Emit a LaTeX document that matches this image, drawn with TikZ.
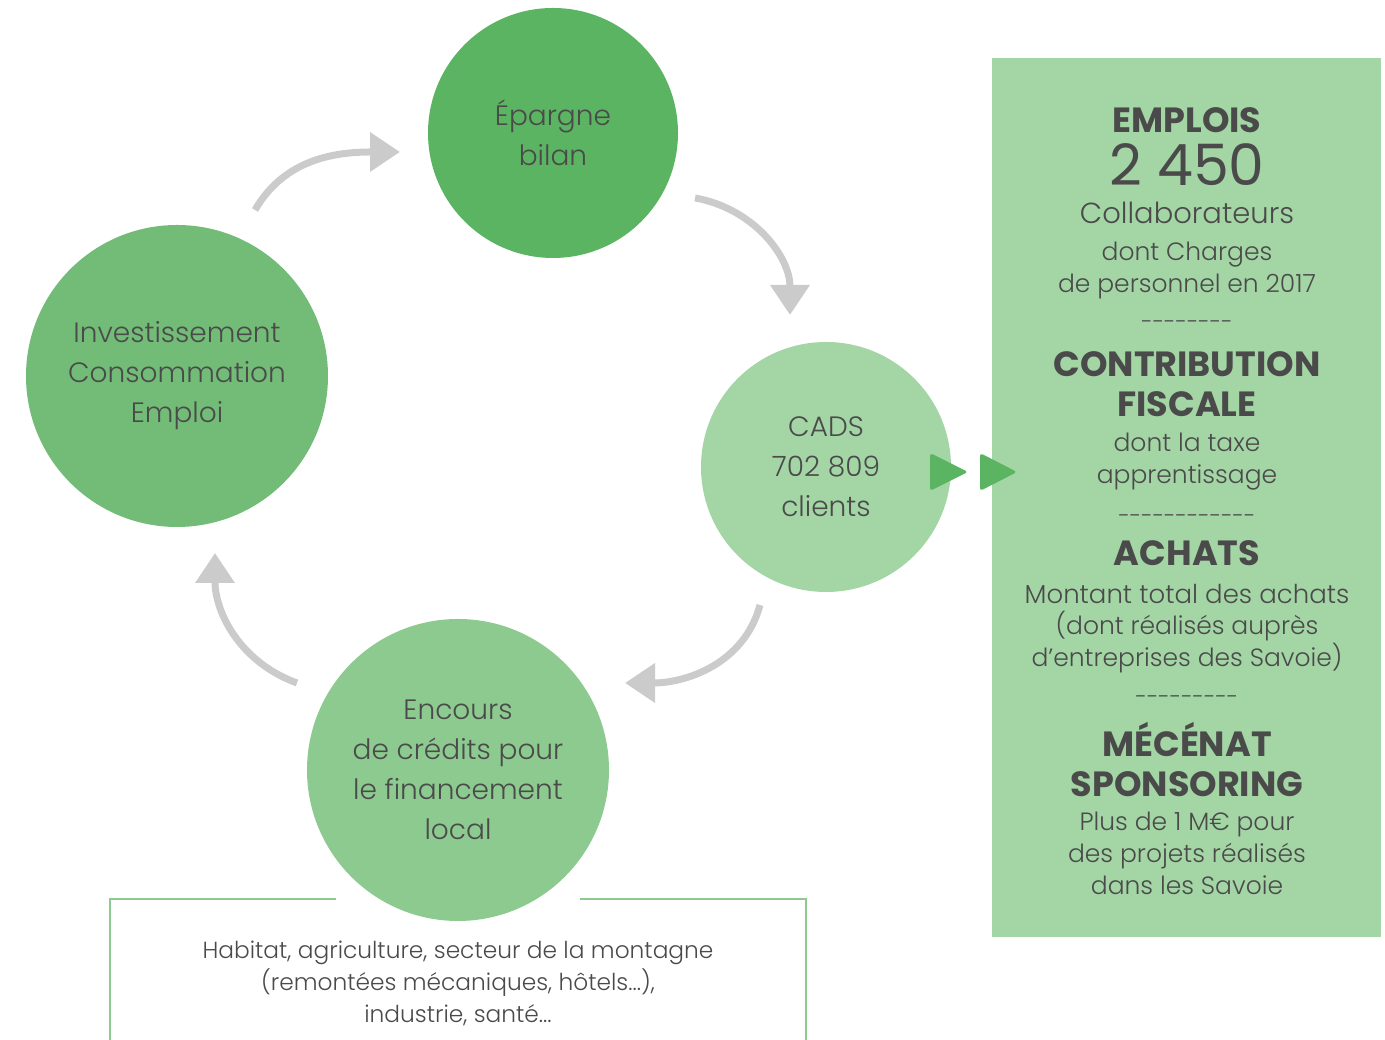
\documentclass[tikz,border=0pt]{standalone}
\usepackage{fontspec}
\setmainfont{Poppins Light}[BoldFont={Poppins Bold}]
\newfontfamily\numfont{Poppins}
\usepackage{tikz}
\usetikzlibrary{arrows.meta}
\usetikzlibrary{positioning}
\definecolor{greenA}{HTML}{5BB462}
\definecolor{greenB}{HTML}{72BC77}
\definecolor{greenC}{HTML}{8DCA8F}
\definecolor{greenD}{HTML}{A3D5A5}
\definecolor{flowgray}{HTML}{CBCBCB}
\definecolor{txt}{HTML}{4A4A4A}
\tikzstyle{bubble} = [circle, inner sep=0pt, text=txt, align=center,
font=\fontsize{28}{40}\selectfont]
\tikzstyle{flow} = [draw=flowgray, line width=7pt, -{Triangle[length=30pt,width=38pt]}]
\tikzstyle{head} = [text=txt, font=\fontsize{35}{40}\selectfont\bfseries]
\tikzstyle{info} = [text=txt, align=center, font=\fontsize{25}{32}\selectfont]
\tikzstyle{rule} = [text=txt, font=\fontsize{22}{32}\selectfont]
\newcommand{\hyphenrow}[1]{\foreach \k in {1,...,#1}{-}}

\begin{document}
\begin{tikzpicture}[x=1pt, y=1pt]
	\useasboundingbox (0,0) rectangle (1385,1040);
	%% cycle
	\node [bubble, fill=greenA, minimum size=250pt] (epargne) at (553,907) {Épargne\\bilan};
	\node [bubble, fill=greenB, minimum size=302pt] (invest) at (177,664) {Investissement\\Consommation\\Emploi};
	\node [bubble, fill=greenD, minimum size=250pt] (cads) at (826,573) {CADS\\702 809\\clients};
	\node [bubble, fill=greenC, minimum size=302pt] (encours) at (458,270) {Encours\\de crédits pour\\le financement\\local};
	%% Flows
	\coordinate (f1a) at (255,830); \coordinate (f1b) at (400,888);
	\coordinate (f2a) at (695,842); \coordinate (f2b) at (790,725);
	\coordinate (f3a) at (760,435); \coordinate (f3b) at (625,357);
	\coordinate (f4a) at (297,357); \coordinate (f4b) at (215,487);
	\draw [flow] (f1a) to [out=60, in=180] (f1b);
	\draw [flow] (f2a) to [out=-10, in=90] (f2b);
	\draw [flow] (f3a) to [out=-105, in=0] (f3b);
	\draw [flow] (f4a) to [out=160, in=-90] (f4b);
	%% bottom box
	\draw [greenC, line width=2pt] (336,141) -- (110,141) -- (110,0);
	\draw [greenC, line width=2pt] (580,141) -- (806,141) -- (806,0);
	\node [info, font=\fontsize{23.3}{32}\selectfont] (secteurs) at (458,57) {Habitat, agriculture, secteur de la montagne\\(remontées mécaniques, hôtels...),\\industrie, santé...};
	%% panel
	\fill [greenD] (992,103) rectangle (1381,982);
	\fill [greenA, rounded corners=3pt] (930,549) -- (968,568) -- (930,587) -- cycle;
	\fill [greenA, rounded corners=3pt] (980,549) -- (1017,568) -- (980,587) -- cycle;
	\node [head] (emplois) at (1187,920) {EMPLOIS};
	\node [text=txt, font=\fontsize{57}{57}\selectfont\numfont] (effectif) at (1187,875) {2 450};
	\node [text=txt, font=\fontsize{29}{40}\selectfont] (collab) at (1187,827) {Collaborateurs};
	\node [info] (charges) at (1187,770) {dont Charges\\de personnel en 2017};
	\node [rule] (r1) at (1187,715) {\hyphenrow{8}};
	\node [head, align=center] (fiscal) at (1187,656) {CONTRIBUTION\\FISCALE};
	\node [info] (taxe) at (1187,578) {dont la taxe\\apprentissage};
	\node [rule] (r2) at (1187,521) {\hyphenrow{12}};
	\node [head] (achats) at (1187,487) {ACHATS};
	\node [text=txt, font=\fontsize{26}{32}\selectfont] (montant) at (1187,446) {Montant total des achats};
	\node [info] (savoie) at (1187,398) {(dont réalisés auprès\\d’entreprises des Savoie)};
	\node [rule] (r3) at (1187,340) {\hyphenrow{9}};
	\node [head, align=center] (mecenat) at (1187,280) {MÉCÉNAT\\SPONSORING};
	\node [info] (projets) at (1187,187) {Plus de 1 M€ pour\\des projets réalisés\\dans les Savoie};
\end{tikzpicture}
\end{document}
